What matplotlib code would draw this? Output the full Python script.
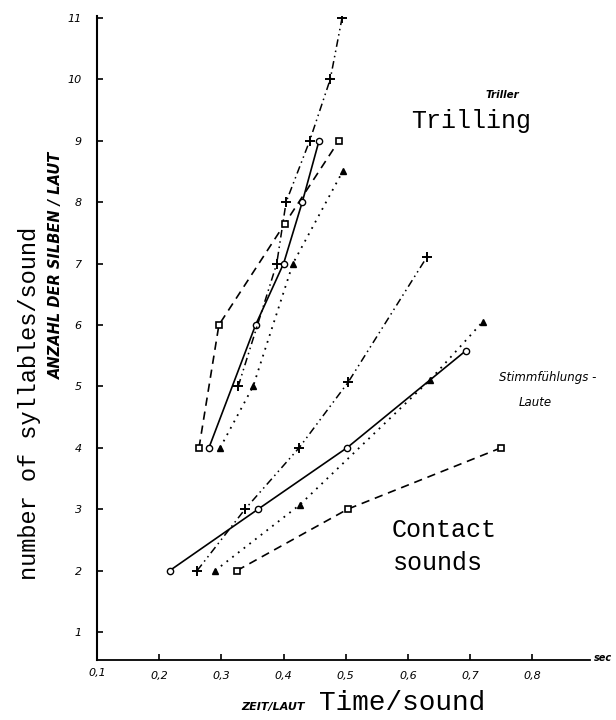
import matplotlib
matplotlib.use("Agg")
import matplotlib.pyplot as plt

# Triller (trilling) series
trill_circle_x = [0.28, 0.355, 0.40, 0.43, 0.457]
trill_circle_y = [4, 6, 7, 8, 9]
trill_plus_x = [0.327, 0.389, 0.404, 0.442, 0.475, 0.494]
trill_plus_y = [5, 7, 8, 9, 10, 11]
trill_square_x = [0.264, 0.296, 0.402, 0.489]
trill_square_y = [4, 6, 7.65, 9]
trill_tri_x = [0.298, 0.351, 0.415, 0.495]
trill_tri_y = [4, 5, 7, 8.5]

# Stimmfuehlungslaute (contact sounds) series
cont_circle_x = [0.217, 0.359, 0.502, 0.693]
cont_circle_y = [2, 3, 4, 5.58]
cont_plus_x = [0.261, 0.338, 0.425, 0.504, 0.63]
cont_plus_y = [2, 3, 4, 5.07, 7.1]
cont_tri_x = [0.29, 0.426, 0.635, 0.72]
cont_tri_y = [2, 3.07, 5.1, 6.05]
cont_square_x = [0.325, 0.503, 0.75]
cont_square_y = [2, 3, 4]

xticks = [0.1, 0.2, 0.3, 0.4, 0.5, 0.6, 0.7, 0.8]
xtick_labels = ["0,1", "0,2", "0,3", "0,4", "0,5", "0,6", "0,7", "0,8"]
yticks = list(range(1, 12))

W, H = 616, 720
fig = plt.figure(figsize=(W / 100, H / 100), dpi=100)
ax = fig.add_axes([97 / W, 1 - 660 / H, (590 - 97) / W, (660 - 16) / H])

k = "black"
dashdot = (0, (5, 2.5, 1, 2.5, 1, 2.5))
dashed = (0, (5, 3.5))
dotted = (0, (1, 3))

for xs, ys in [(trill_circle_x, trill_circle_y), (cont_circle_x, cont_circle_y)]:
    ax.plot(xs, ys, color=k, lw=1.2, ls="-", marker="o", ms=4.5,
            mfc="white", mec=k, mew=1)
for xs, ys in [(trill_plus_x, trill_plus_y), (cont_plus_x, cont_plus_y)]:
    ax.plot(xs, ys, color=k, lw=1.1, ls=dashdot, marker="+", ms=7, mew=1.4)
for xs, ys in [(trill_square_x, trill_square_y), (cont_square_x, cont_square_y)]:
    ax.plot(xs, ys, color=k, lw=1.2, ls=dashed, marker="s", ms=4.5,
            mfc="white", mec=k, mew=1.2)
for xs, ys in [(trill_tri_x, trill_tri_y), (cont_tri_x, cont_tri_y)]:
    ax.plot(xs, ys, color=k, lw=1.3, ls=dotted, marker="^", ms=4.5,
            mfc=k, mec=k)

ax.set_xlim(0.1, 0.1 + (590 - 97) / 622)
ax.set_ylim(0.544, 11.03)
ax.spines["top"].set_visible(False)
ax.spines["right"].set_visible(False)
ax.spines["left"].set_linewidth(1.5)
ax.spines["bottom"].set_linewidth(1.3)

ax.set_xticks(xticks[1:])
ax.set_xticklabels(xtick_labels[1:], fontsize=8, style="italic")
ax.set_yticks(yticks)
ax.set_yticklabels([str(v) for v in yticks], fontsize=8, style="italic")
ax.tick_params(direction="in", length=4, width=1.2)
ax.tick_params(axis="x", pad=8)
ax.tick_params(axis="y", pad=11)

fig.text(97 / W, 1 - 673 / H, "0,1", fontsize=8, style="italic", ha="center", va="center")
fig.text(594 / W, 1 - 658 / H, "sec", fontsize=7, style="italic", weight="bold",
         ha="left", va="center")

mono = "Liberation Mono"
fig.text(30 / W, 1 - 403 / H, "number of syllables/sound", family=mono, fontsize=17,
         rotation=90, ha="center", va="center")
fig.text(56 / W, 1 - 265 / H, "ANZAHL DER SILBEN / LAUT", fontsize=10.5, style="italic",
         weight="bold", rotation=90, ha="center", va="center")
fig.text(273 / W, 1 - 707 / H, "ZEIT/LAUT", fontsize=8, style="italic", weight="bold",
         ha="center", va="center")
fig.text(402 / W, 1 - 703 / H, "Time/sound", family=mono, fontsize=20,
         ha="center", va="center")

fig.text(502 / W, 1 - 95 / H, "Triller", fontsize=7.5, style="italic", weight="bold",
         ha="center", va="center")
fig.text(471 / W, 1 - 121 / H, "Trilling", family=mono, fontsize=18,
         ha="center", va="center")
fig.text(548 / W, 1 - 377 / H, "Stimmfühlungs -", fontsize=8.5, style="italic",
         ha="center", va="center")
fig.text(535 / W, 1 - 403 / H, "Laute", fontsize=8.5, style="italic",
         ha="center", va="center")
fig.text(392 / W, 1 - 530 / H, "Contact", family=mono, fontsize=18,
         ha="left", va="center")
fig.text(393 / W, 1 - 563 / H, "sounds", family=mono, fontsize=18,
         ha="left", va="center")

fig.savefig("out.png", dpi=100)
